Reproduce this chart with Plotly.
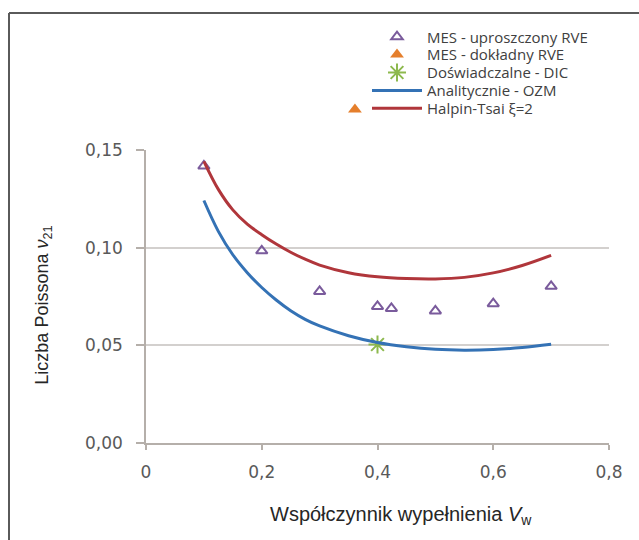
import plotly.graph_objects as go

# Data
mes_upr_x = [0.1, 0.2, 0.3, 0.4, 0.424, 0.5, 0.6, 0.7]
mes_upr_y = [0.142, 0.0985, 0.0777, 0.0700, 0.0690, 0.0677, 0.0714, 0.0803]

mes_dok_x = [0.361]
mes_dok_y = [0.171]

dic_x = [0.40]
dic_y = [0.0505]

ozm_x = [0.1, 0.125, 0.15, 0.175, 0.2, 0.225, 0.25, 0.275, 0.3, 0.35, 0.4, 0.45, 0.5, 0.55, 0.6, 0.65, 0.7]
ozm_y = [0.1243, 0.1085, 0.0965, 0.0873, 0.0797, 0.0733, 0.0678, 0.0634, 0.0600, 0.0550, 0.0515, 0.0493, 0.0480, 0.0476, 0.0479, 0.0489, 0.0506]

ht_x = [0.1, 0.125, 0.15, 0.175, 0.2, 0.225, 0.25, 0.275, 0.3, 0.35, 0.4, 0.45, 0.5, 0.55, 0.6, 0.65, 0.7]
ht_y = [0.1444, 0.1300, 0.1195, 0.1122, 0.1068, 0.1020, 0.0978, 0.0942, 0.0912, 0.0873, 0.0852, 0.0843, 0.0841, 0.0849, 0.0872, 0.0910, 0.0962]

x_ticks = [0, 0.2, 0.4, 0.6, 0.8]
x_ticklabels = ["0", "0,2", "0,4", "0,6", "0,8"]
y_ticks = [0, 0.05, 0.10, 0.15]
y_ticklabels = ["0,00", "0,05", "0,10", "0,15"]

# geometry (pixels)
W, H = 639, 540
L, R, T, B = 146, 30, 20, 97
PW = W - L - R
PH = H - T - B
Y0 = H - B  # pixel of y=0


def px_x(p):
    return (p - L) / PW


def px_y(p):
    return (Y0 - p) / PH


main_frac = (Y0 - 149) / PH

fig = go.Figure()
fig.add_trace(go.Scatter(
    x=mes_upr_x, y=mes_upr_y, mode="markers", name="MES - uproszczony RVE",
    marker=dict(symbol="triangle-up-open", size=10, color="#7A5B9C", line=dict(width=2, color="#7A5B9C")),
    cliponaxis=False, legend="legend"))
fig.add_trace(go.Scatter(
    x=mes_dok_x, y=mes_dok_y, mode="markers", name="MES - dokładny RVE", yaxis="y2",
    marker=dict(symbol="triangle-up", size=12, color="#E57F2C"),
    cliponaxis=False, legend="legend2"))
fig.add_trace(go.Scatter(
    x=dic_x, y=dic_y, mode="markers", name="Doświadczalne - DIC",
    marker=dict(symbol="asterisk-open", size=15, color="#8DB94E", line=dict(width=2, color="#8DB94E")),
    cliponaxis=False, legend="legend3"))
fig.add_trace(go.Scatter(
    x=ozm_x, y=ozm_y, mode="lines", name="Analitycznie - OZM",
    line=dict(color="#3472B5", width=3, shape="spline", smoothing=1.0), legend="legend4"))
fig.add_trace(go.Scatter(
    x=ht_x, y=ht_y, mode="lines", name="Halpin-Tsai ξ=2",
    line=dict(color="#B0363B", width=3, shape="spline", smoothing=1.0), legend="legend5"))

tickfont = dict(family="DejaVu Sans", size=17, color="#595959")
legfont = dict(family="Open Sans", size=15, color="#404040")

legend_rows = [35, 53, 71, 89, 107]
legends = {}
for i, row in enumerate(legend_rows):
    key = "legend" if i == 0 else f"legend{i + 1}"
    legends[key] = dict(x=px_x(367), y=px_y(row), xanchor="left", yanchor="middle",
                        font=legfont, bgcolor="rgba(0,0,0,0)", itemwidth=50,
                        borderwidth=0)

fig.update_layout(
    width=W, height=H,
    margin=dict(l=L, r=R, t=T, b=B),
    paper_bgcolor="white", plot_bgcolor="rgba(0,0,0,0)",
    showlegend=True,
    **legends,
    xaxis=dict(range=[0, 0.8], tickvals=x_ticks, ticktext=x_ticklabels, anchor="y",
               showgrid=False, zeroline=False, showline=True, linecolor="#B5AFAA", linewidth=1.5,
               ticks="outside", ticklen=5, tickcolor="#B5AFAA", tickwidth=1.5,
               tickfont=tickfont, ticklabelstandoff=8),
    yaxis=dict(range=[0, 0.15], tickvals=y_ticks, ticktext=y_ticklabels, domain=[0, main_frac],
               showgrid=True, gridcolor="#D3D0CE", gridwidth=1.5, zeroline=False,
               showline=True, linecolor="#B5AFAA", linewidth=1.5,
               ticks="outside", ticklen=8, tickcolor="#B5AFAA", tickwidth=1.5,
               tickfont=tickfont, ticklabelstandoff=10),
    yaxis2=dict(range=[0, 0.15 / main_frac], domain=[0, 1], anchor="x", visible=False,
                showgrid=False, zeroline=False),
    annotations=[
        dict(text="Współczynnik wypełnienia <i>V</i><sub>w</sub>", xref="paper", yref="paper",
             x=px_x(401), y=px_y(516), xanchor="center", yanchor="middle",
             showarrow=False, font=dict(family="Liberation Sans", size=20, color="#262626")),
        dict(text="Liczba Poissona <i>ν</i><sub>21</sub>", xref="paper", yref="paper",
             x=px_x(44), y=px_y(305), xanchor="center", yanchor="middle",
             textangle=-90, showarrow=False, font=dict(family="Liberation Sans", size=18, color="#262626")),
    ],
    shapes=[
        dict(type="line", xref="paper", yref="paper", x0=px_x(9), x1=px_x(645),
             y0=px_y(11), y1=px_y(11), line=dict(color="#5A5A5A", width=2)),
        dict(type="line", xref="paper", yref="paper", x0=px_x(9), x1=px_x(9),
             y0=px_y(11), y1=px_y(545), line=dict(color="#5A5A5A", width=2)),
    ],
)

fig.write_html("out.html")
